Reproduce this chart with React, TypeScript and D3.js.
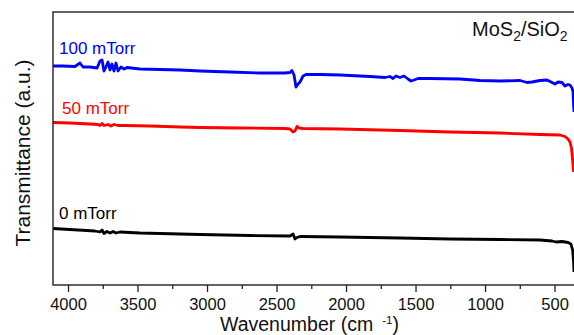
import React, { useRef, useEffect } from 'react';
import * as d3 from 'd3';

interface Pt {
  wn: number;
  t: number;
}

// transmittance (a.u., already offset per sample)
const blueWn = [4108, 4043, 3950, 3914, 3892, 3842, 3791, 3770, 3755, 3741, 3727, 3712, 3698, 3684, 3669, 3655, 3640, 3619, 3597, 3576, 3482, 3338, 3194, 3050, 2835, 2619, 2439, 2403, 2389, 2374, 2360, 2345, 2331, 2309, 2288, 2187, 2043, 1827, 1720, 1684, 1662, 1641, 1612, 1583, 1554, 1533, 1511, 1482, 1396, 1180, 1036, 892, 748, 698, 662, 605, 554, 518, 497, 475, 446, 425, 403, 389, 374, 367, 363, 360];
const blueT = [219, 219, 218.5, 222, 218, 218, 217, 224, 225, 214, 218, 223, 215, 221, 214, 222, 214, 218, 216, 217.5, 216, 215.5, 215, 214, 213, 212, 212, 212.5, 214.5, 210, 198, 201, 203, 209, 210.5, 210.5, 210, 208.5, 207.5, 208.5, 206.5, 209, 207.5, 209, 206, 204, 205, 206.5, 206.5, 206, 204.5, 204, 204.5, 202.5, 203, 204.5, 205, 202.5, 201, 203, 202.5, 199, 200.5, 200, 197, 193, 180, 173];

const redWn = [4108, 3986, 3842, 3784, 3770, 3755, 3741, 3712, 3691, 3669, 3640, 3590, 3410, 3194, 3050, 2763, 2439, 2403, 2381, 2367, 2353, 2338, 2309, 2043, 1612, 1252, 892, 605, 461, 425, 403, 389, 378, 370, 363];
const redT = [162.5, 162, 161, 160.5, 159.5, 161.5, 159.5, 160.5, 159, 160.5, 159.5, 159.5, 159, 158, 157.5, 157, 156.5, 156, 153, 154, 158.5, 157, 156.5, 156, 154.5, 153, 152, 150.5, 150, 148.5, 146, 143, 137, 125, 113];

const blackWn = [4108, 3986, 3806, 3770, 3755, 3741, 3720, 3698, 3676, 3655, 3626, 3482, 3194, 3050, 2691, 2403, 2381, 2367, 2353, 2331, 2043, 1612, 1252, 892, 605, 518, 489, 446, 403, 382, 370, 363, 360];
const blackT = [56.5, 55.5, 54, 53, 55, 51.5, 53.5, 52, 53.5, 52, 53, 52, 51, 50.5, 49.5, 49, 51, 46, 47.5, 48.5, 48, 47, 46, 45.5, 45, 44, 43, 43.5, 42.5, 41, 35, 23, 13];

const labels = ['100 mTorr', '50 mTorr', '0 mTorr'];
const colors = ['#0000ff', '#ff0000', '#000000'];
const majorTicks = [4000, 3500, 3000, 2500, 2000, 1500, 1000, 500];
const minorTicks = [3750, 3250, 2750, 2250, 1750, 1250, 750];

const zip = (w: number[], t: number[]): Pt[] => w.map((d, i) => ({ wn: d, t: t[i] }));

const App: React.FC = () => {
  const svgRef = useRef<SVGSVGElement>(null);

  const width = 574;
  const height = 335;
  const marginTop = 12;
  const marginLeft = 53;
  const marginBottom = 50;
  const font = 'Liberation Sans, Arial, sans-serif';

  const x = d3.scaleLinear().domain([4108, 360]).range([marginLeft, width]);
  const y = d3.scaleLinear().domain([0, 273]).range([height - marginBottom, marginTop]);

  useEffect(() => {
    if (!svgRef.current) return;
    const svg = d3.select(svgRef.current);
    svg.selectAll('*').remove();

    const series = [zip(blueWn, blueT), zip(redWn, redT), zip(blackWn, blackT)];
    const line = d3.line<Pt>().x((d) => x(d.wn)).y((d) => y(d.t));

    series.forEach((s, i) => {
      svg.append('path')
        .attr('d', line(s))
        .attr('fill', 'none')
        .attr('stroke', colors[i])
        .attr('stroke-width', 2.8)
        .attr('stroke-linejoin', 'round');
    });

    // frame
    svg.append('rect')
      .attr('x', marginLeft)
      .attr('y', marginTop)
      .attr('width', width - marginLeft + 5)
      .attr('height', height - marginBottom - marginTop)
      .attr('fill', 'none')
      .attr('stroke', '#222')
      .attr('stroke-width', 1.4);

    // x axis
    const gx = svg.append('g')
      .attr('transform', `translate(0,${height - marginBottom})`)
      .call(d3.axisBottom(x).tickValues(majorTicks).tickSize(7).tickPadding(6).tickFormat(d3.format('d')));
    gx.select('.domain').remove();
    gx.selectAll('line').attr('stroke', '#222').attr('stroke-width', 1.3);
    gx.selectAll('text').attr('font-family', font).attr('font-size', 16.5).attr('fill', '#111');

    const gm = svg.append('g')
      .attr('transform', `translate(0,${height - marginBottom})`)
      .call(d3.axisBottom(x).tickValues(minorTicks).tickSize(4).tickFormat(() => ''));
    gm.select('.domain').remove();
    gm.selectAll('line').attr('stroke', '#222').attr('stroke-width', 1.3);

    // x title
    const xt = svg.append('text')
      .attr('x', 220)
      .attr('y', 330.8)
      .attr('font-family', font)
      .attr('font-size', 19.5)
      .attr('fill', '#111');
    xt.append('tspan').text('Wavenumber (cm');
    xt.append('tspan').attr('dx', 9).attr('dy', -7).attr('font-size', 11.5).text('-1');
    xt.append('tspan').attr('dy', 7).text(')');

    // y title
    svg.append('text')
      .attr('transform', 'rotate(-90)')
      .attr('x', -153)
      .attr('y', 30)
      .attr('text-anchor', 'middle')
      .attr('font-family', font)
      .attr('font-size', 21)
      .attr('fill', '#111')
      .text('Transmittance (a.u.)');

    // series labels
    const lblPos = [[59, 54], [62, 114], [59, 219]];
    labels.forEach((l, i) => {
      svg.append('text')
        .attr('x', lblPos[i][0])
        .attr('y', lblPos[i][1])
        .attr('font-family', font)
        .attr('font-size', 17)
        .attr('fill', colors[i])
        .text(l);
    });

    // sample name
    const mt = svg.append('text')
      .attr('x', 472)
      .attr('y', 36)
      .attr('font-family', font)
      .attr('font-size', 20)
      .attr('fill', '#111');
    mt.append('tspan').text('MoS');
    mt.append('tspan').attr('dy', 5).attr('font-size', 14).text('2');
    mt.append('tspan').attr('dy', -5).text('/SiO');
    mt.append('tspan').attr('dy', 5).attr('font-size', 14).text('2');
  }, []);

  return (
    <svg
      ref={svgRef}
      width={width}
      height={height}
      style={{ position: 'absolute', left: 0, top: 0, background: '#fff' }}
    />
  );
};

export default App;
